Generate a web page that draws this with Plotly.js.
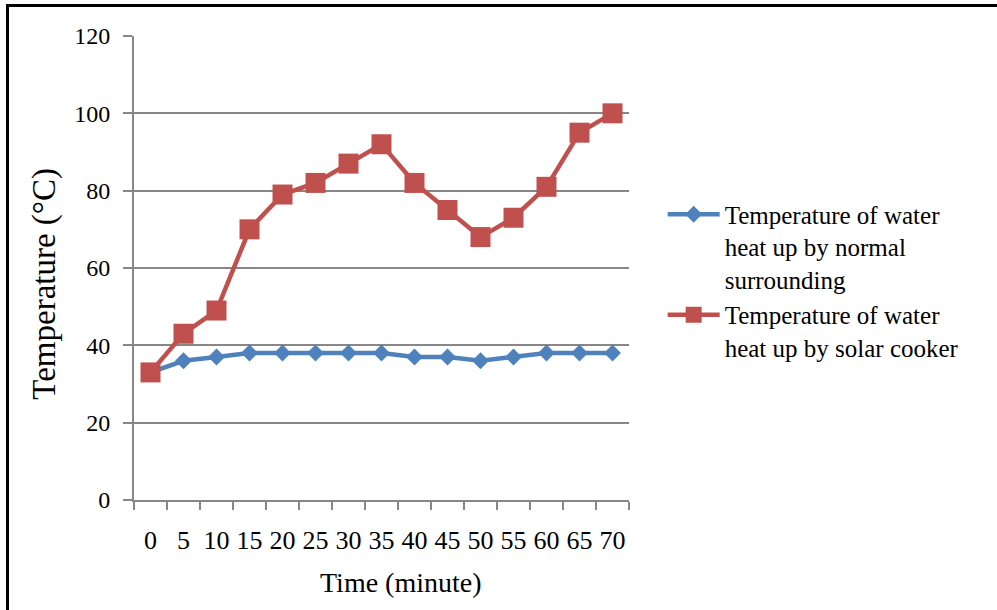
<!DOCTYPE html>
<html>
<head>
<meta charset="utf-8">
<script src="https://cdn.plot.ly/plotly-3.0.1.min.js"></script>
<style>
  html, body { margin: 0; padding: 0; background: #ffffff; }
  #wrap { position: relative; width: 997px; height: 610px; }
  #chart { width: 997px; height: 610px; }
  #frame { position: absolute; left: 6px; top: 4px; right: 0; bottom: 0;
           border-top: 3px solid #000; border-left: 3px solid #000; pointer-events: none; }
</style>
</head>
<body>
<div id="wrap">
  <div id="chart"></div>
  <div id="frame"></div>
</div>
<script>
// Time after start, minutes
const minutes = ['0', '5', '10', '15', '20', '25', '30', '35', '40', '45', '50', '55', '60', '65', '70'];
// Water temperature (°C) left in the normal surroundings
const tempSurrounding = [33, 36, 37, 38, 38, 38, 38, 38, 37, 37, 36, 37, 38, 38, 38];
// Water temperature (°C) heated by the solar cooker
const tempSolarCooker = [33, 43, 49, 70, 79, 82, 87, 92, 82, 75, 68, 73, 81, 95, 100];

const seriesNames = [
  'Temperature of water<br>heat up by normal<br>surrounding',
  'Temperature of water<br>heat up by solar cooker'
];
const yTicks = [0, 20, 40, 60, 80, 100, 120];

const serif = 'Liberation Serif';
const gridGrey = '#878787';

const traces = [
  {
    x: minutes, y: tempSurrounding, name: seriesNames[0],
    type: 'scatter', mode: 'lines+markers',
    line: { color: '#4F81BD', width: 4.5 },
    marker: { symbol: 'diamond', size: 13, color: '#4F81BD' }
  },
  {
    x: minutes, y: tempSolarCooker, name: seriesNames[1],
    type: 'scatter', mode: 'lines+markers',
    line: { color: '#C0504D', width: 4.5 },
    marker: { symbol: 'square', size: 20, color: '#C0504D' }
  }
];

const layout = {
  width: 997, height: 610,
  margin: { l: 134, r: 368, t: 36, b: 110 },
  paper_bgcolor: '#ffffff', plot_bgcolor: '#ffffff',
  font: { family: serif, color: '#000000' },
  showlegend: true,
  legend: {
    x: 1.068, xanchor: 'left', y: 0.665, yanchor: 'top',
    font: { family: serif, size: 25, color: '#000' },
    valign: 'top', tracegroupgap: 10, itemwidth: 52,
    bgcolor: 'rgba(0,0,0,0)'
  },
  xaxis: {
    type: 'category', range: [-0.5, 14.5],
    tickmode: 'array', tickvals: minutes, ticktext: minutes,
    tickson: 'boundaries', ticks: 'outside', ticklen: 8, tickwidth: 2, tickcolor: gridGrey,
    showline: true, linecolor: gridGrey, linewidth: 2,
    showgrid: false, zeroline: false, tickangle: 0,
    tickfont: { family: serif, size: 26, color: '#000' },
    ticklabelstandoff: 16,
    fixedrange: true
  },
  yaxis: {
    range: [0, 120], tickmode: 'array', tickvals: yTicks,
    ticks: 'outside', ticklen: 9, tickwidth: 2, tickcolor: gridGrey,
    showline: true, linecolor: gridGrey, linewidth: 2,
    showgrid: true, gridcolor: gridGrey, gridwidth: 2, zeroline: false,
    tickfont: { family: serif, size: 24, color: '#000' },
    ticklabelstandoff: 8,
    fixedrange: true
  },
  annotations: [
    {
      text: 'Time (minute)', xref: 'paper', yref: 'paper',
      x: 0.54, y: -0.178, xanchor: 'center', yanchor: 'middle', showarrow: false,
      font: { family: serif, size: 28, color: '#000' }
    },
    {
      text: 'Temperature (°C)', xref: 'paper', yref: 'paper',
      x: -0.18, y: 0.466, xanchor: 'center', yanchor: 'middle', showarrow: false,
      textangle: -90,
      font: { family: serif, size: 33, color: '#000' }
    }
  ]
};

Plotly.newPlot('chart', traces, layout, { staticPlot: true, displayModeBar: false });
</script>
</body>
</html>
